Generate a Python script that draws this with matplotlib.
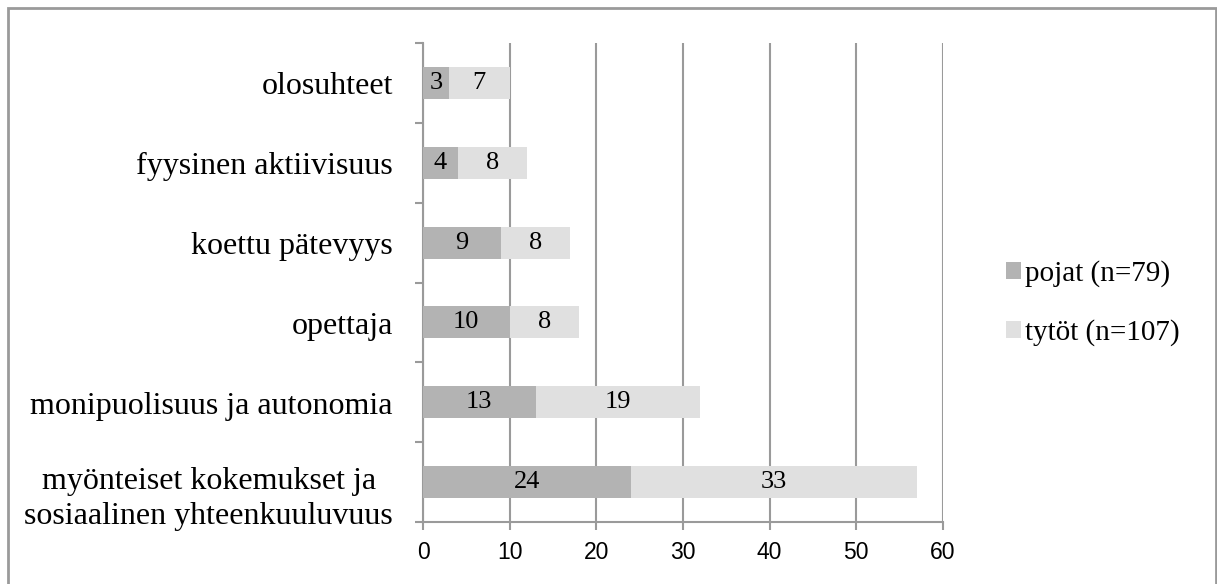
import matplotlib.pyplot as plt
from matplotlib.patches import Rectangle

# categories listed bottom to top
categories = [
    "myönteiset kokemukset ja\nsosiaalinen yhteenkuuluvuus",
    "monipuolisuus ja autonomia",
    "opettaja",
    "koettu pätevyys",
    "fyysinen aktiivisuus",
    "olosuhteet",
]
pojat = [24, 13, 10, 9, 4, 3]
tytot = [33, 19, 8, 8, 8, 7]
series_names = ["pojat (n=79)", "tytöt (n=107)"]
xticks = [0, 10, 20, 30, 40, 50, 60]

dark = "#b3b3b3"
light = "#e0e0e0"
grid = "#9a9a9a"
serif = "Liberation Serif"

fig = plt.figure(figsize=(12.17, 5.84), dpi=100)
ax = fig.add_axes([423 / 1217, 1 - 522 / 584, 520 / 1217, 479 / 584])

ypos = list(range(len(categories)))
b1 = ax.barh(ypos, pojat, height=0.4, color=dark, label=series_names[0], zorder=3)
b2 = ax.barh(ypos, tytot, left=pojat, height=0.4, color=light, label=series_names[1], zorder=3)

for y, p, t in zip(ypos, pojat, tytot):
    ax.text(p / 2, y, str(p), ha="center", va="center", fontsize=19, family=serif, zorder=4)
    ax.text(p + t / 2, y, str(t), ha="center", va="center", fontsize=19, family=serif, zorder=4)

ax.set_xlim(0, 60)
ax.set_ylim(-0.5, len(categories) - 0.5)
ax.set_xticks(xticks)
ax.set_xticklabels([str(v) for v in xticks], family="Liberation Sans", fontsize=16.5)
ax.xaxis.grid(True, color=grid, linewidth=1.5, zorder=0)

# category boundaries as ticks, names drawn as text beside the axis
ax.set_yticks([i - 0.5 for i in range(len(categories) + 1)])
ax.set_yticklabels([])
ax.tick_params(axis="y", length=6, width=1.5, color=grid, direction="out")
ax.tick_params(axis="x", length=6, width=1.5, color=grid, direction="out", pad=8)
for y, name in zip(ypos, categories):
    dy = -17 if "\n" in name else -4
    ax.annotate(name, xy=(0, y), xycoords=("axes fraction", "data"), xytext=(-30, dy),
                textcoords="offset pixels", ha="right", va="center", multialignment="center",
                linespacing=1.3, fontsize=23, family=serif)

for side in ["top", "right"]:
    ax.spines[side].set_visible(False)
for side in ["left", "bottom"]:
    ax.spines[side].set_color(grid)
    ax.spines[side].set_linewidth(1.5)

fig.legend(handles=[b1, b2], loc="center left", bbox_to_anchor=(980 / 1217, 1 - 303 / 584),
           frameon=False, prop={"family": serif, "size": 21}, handlelength=0.5,
           handleheight=0.5, handletextpad=0.15, labelspacing=1.1)

# outer chart frame
fig.patches.append(Rectangle((8 / 1217, -0.05), 1208 / 1217, 1.05 - 8 / 584, transform=fig.transFigure,
                             fill=False, edgecolor=grid, linewidth=2))

fig.savefig("out.png", dpi=100)
